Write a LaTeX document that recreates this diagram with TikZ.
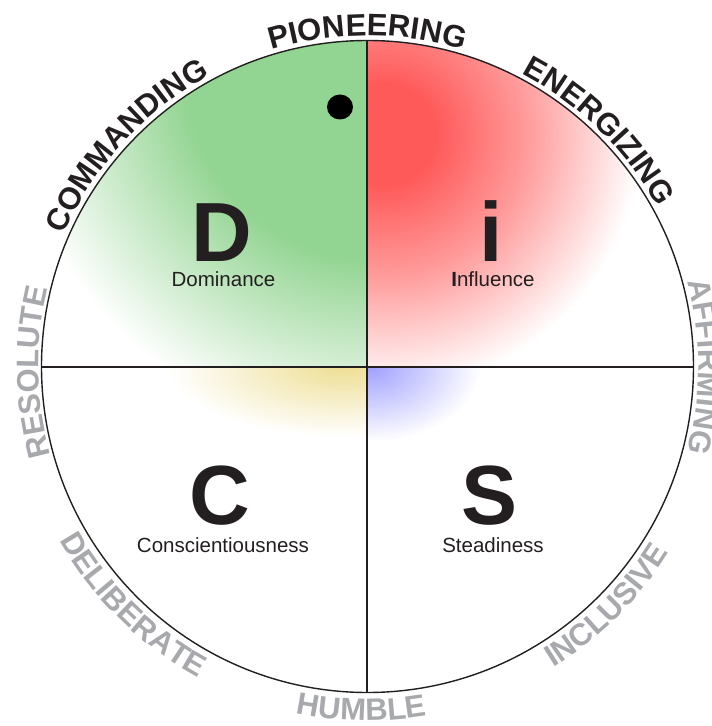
\documentclass[tikz,border=0pt]{standalone}
\usepackage{fontspec}
\setmainfont{Liberation Sans}
\usetikzlibrary{decorations.text}

\definecolor{discgreen}{RGB}{146,212,145}
\definecolor{discred}{RGB}{255,90,90}
\definecolor{discyellow}{RGB}{238,222,148}
\definecolor{discblue}{RGB}{160,160,255}
\definecolor{inkblack}{RGB}{35,31,32}
\definecolor{ringgray}{RGB}{167,169,172}

\newcommand\ringfont{\fontsize{31}{31}\selectfont\bfseries}

\pgfdeclareradialshading{greenglow}{\pgfpointorigin}{color(0bp)=(discgreen); color(13bp)=(discgreen); color(25bp)=(white); color(50bp)=(white)}
\pgfdeclareradialshading{redglow}{\pgfpointorigin}{color(0bp)=(discred); color(5bp)=(discred); color(14bp)=(discred!60!white); color(25bp)=(white); color(50bp)=(white)}
\pgfdeclareradialshading{yellowglow}{\pgfpointorigin}{color(0bp)=(discyellow); color(25bp)=(white); color(50bp)=(white)}
\pgfdeclareradialshading{blueglow}{\pgfpointorigin}{color(0bp)=(discblue); color(25bp)=(white); color(50bp)=(white)}

\tikzset{
  bigletter/.style={font=\fontsize{84}{84}\selectfont\bfseries, text=inkblack, anchor=base, inner sep=0pt},
  traitlabel/.style={font=\fontsize{20.5}{20.5}\selectfont, text=inkblack, anchor=base, inner sep=0pt},
  ringword/.style 2 args={decorate, decoration={text along path, text align=center, text color=#2, text={|\ringfont|#1}}},
}

\begin{document}
\begin{tikzpicture}[x=1pt,y=1pt]

  \newcommand\R{326}
  \newcommand\Rout{331} % baseline of words above the rim
  \newcommand\Rin{354}  % baseline of words below the rim

  \useasboundingbox (-367.5,-359.5) rectangle (344.5,366.5);

  \coordinate (hub) at (0,0);
  \coordinate (top) at (90:\R);
  \coordinate (bottom) at (270:\R);
  \coordinate (left) at (180:\R);
  \coordinate (right) at (0:\R);

  %% glows, one per quadrant
  \begin{scope}
    \clip (hub) -- (top) arc (90:180:\R) -- cycle;
    \shade[shading=greenglow] (10,300) circle (370);
  \end{scope}
  \begin{scope}
    \clip (hub) -- (right) arc (0:90:\R) -- cycle;
    \shade[shading=redglow] (18,232) circle (255);
  \end{scope}
  \begin{scope}
    \clip (hub) -- (left) arc (180:270:\R) -- cycle;
    \shade[shading=yellowglow] (-25,0) ellipse [x radius=175, y radius=70];
  \end{scope}
  \begin{scope}
    \clip (hub) -- (bottom) arc (270:360:\R) -- cycle;
    \shade[shading=blueglow] (3,0) ellipse [x radius=110, y radius=75];
  \end{scope}

  %% axes and rim
  \draw[line width=2, inkblack] (top) -- (bottom);
  \draw[line width=2, inkblack] (left) -- (right);
  \draw[line width=1.4, inkblack] (hub) circle (\R);

  \fill[black] (-27.5,259.5) ellipse [x radius=13, y radius=12.5];

  %% quadrant letters
  \node[bigletter] (dletter) at (-145.8,104.5) {D};
  \node[bigletter] (iletter) at (123.5,104.5) {i};
  \node[bigletter] (cletter) at (-147.5,-157.5) {C};
  \node[bigletter] (sletter) at (122.5,-157.5) {S};

  \node[traitlabel] (dname) at (-144,80.5) {Dominance};
  \node[traitlabel] (iname) at (125.5,80.5) {\textbf{I}nfluence};
  \node[traitlabel] (cname) at (-144.5,-185.5) {Conscientiousness};
  \node[traitlabel] (sname) at (125.5,-185.5) {Steadiness};

  %% words round the rim
  \path[ringword={PIONEERING}{inkblack}] (120:\Rout) arc (120:60:\Rout);
  \path[ringword={COMMANDING}{inkblack}] (167.5:\Rout) arc (167.5:107.5:\Rout);
  \path[ringword={ENERGIZING}{inkblack}] (75.5:\Rout) arc (75.5:15.5:\Rout);
  \path[ringword={RESOLUTE}{ringgray}] (211:329) arc (211:151:329);
  \path[ringword={AFFIRMING}{ringgray}] (30:\Rout) arc (30:-30:\Rout);
  \path[ringword={DELIBERATE}{ringgray}] (195.5:\Rin) arc (195.5:255.5:\Rin);
  \path[ringword={HUMBLE}{ringgray}] (239:\Rin) arc (239:299:\Rin);
  \path[ringword={INCLUSIVE}{ringgray}] (285:\Rin) arc (285:345:\Rin);

\end{tikzpicture}
\end{document}
